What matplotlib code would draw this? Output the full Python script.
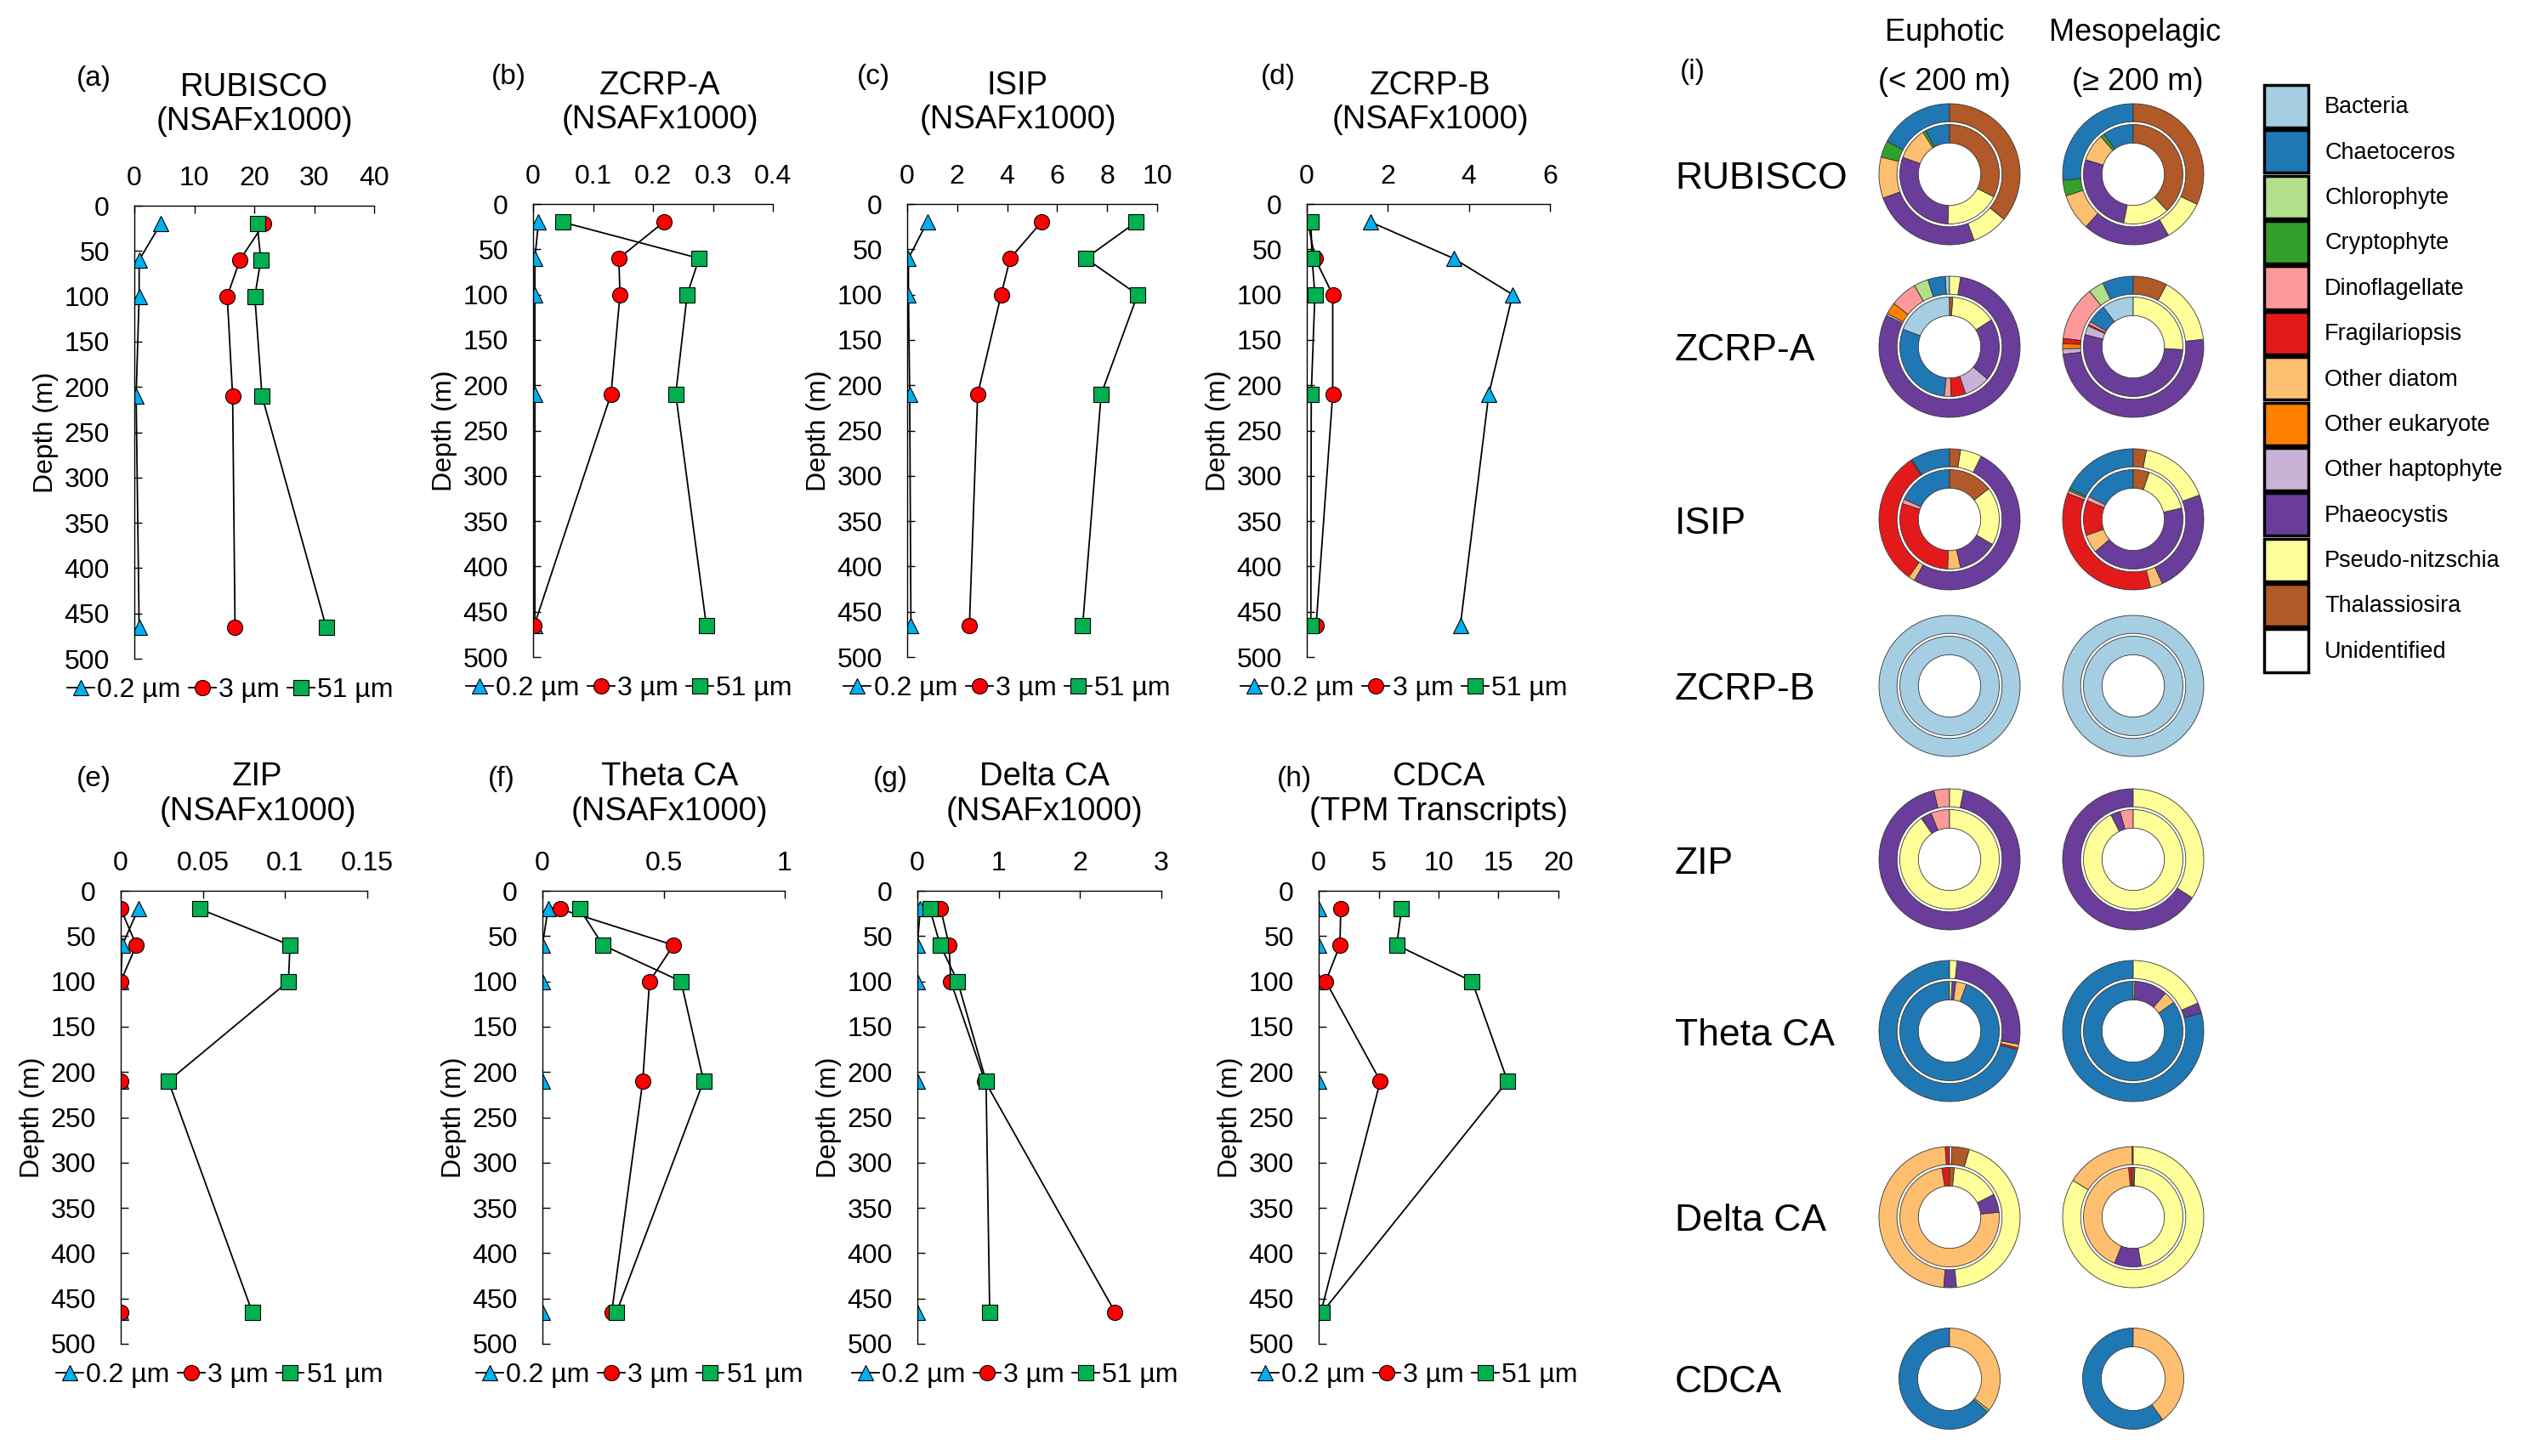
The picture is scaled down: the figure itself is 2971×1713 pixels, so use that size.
import numpy as np
import matplotlib
matplotlib.use("Agg")
import matplotlib.pyplot as plt
from matplotlib.patches import Patch
from matplotlib.ticker import FuncFormatter

plt.rcParams['font.family'] = ['Liberation Sans', 'DejaVu Sans']

W, H = 2971, 1713

# depth profiles (NSAFx1000 / TPM) for the three size fractions
depth = [20, 60, 100, 210, 465]

rubisco_02 = [4.4, 0.8, 0.8, 0.3, 0.8]
rubisco_3 = [21.6, 17.6, 15.5, 16.4, 16.8]
rubisco_51 = [20.5, 21.1, 20.1, 21.3, 32.0]

zcrpa_02 = [0.009, 0.003, 0.003, 0.003, 0.003]
zcrpa_3 = [0.218, 0.143, 0.145, 0.130, 0.002]
zcrpa_51 = [0.049, 0.277, 0.257, 0.238, 0.289]

isip_02 = [0.8, 0.05, 0.05, 0.1, 0.15]
isip_3 = [5.37, 4.12, 3.76, 2.82, 2.49]
isip_51 = [9.16, 7.14, 9.22, 7.76, 7.02]

zcrpb_02 = [1.58, 3.62, 5.08, 4.49, 3.79]
zcrpb_3 = [0.03, 0.2, 0.64, 0.64, 0.23]
zcrpb_51 = [0.1, 0.13, 0.2, 0.11, 0.1]

zip_02 = [0.0107, 0.001, 0.0, 0.0, 0.0]
zip_3 = [0.0, 0.0095, 0.0, 0.0, 0.0]
zip_51 = [0.048, 0.103, 0.102, 0.029, 0.080]

theta_02 = [0.023, 0.0, 0.0, 0.0, 0.0]
theta_3 = [0.072, 0.541, 0.442, 0.414, 0.286]
theta_51 = [0.154, 0.249, 0.572, 0.665, 0.306]

delta_02 = [0.035, 0.0, 0.0, 0.0, 0.0]
delta_3 = [0.286, 0.39, 0.41, 0.83, 2.43]
delta_51 = [0.153, 0.28, 0.495, 0.844, 0.889]

cdca_02 = [0.0, 0.0, 0.0, 0.0, 0.0]
cdca_3 = [1.84, 1.77, 0.59, 5.14, 0.19]
cdca_51 = [6.91, 6.51, 12.8, 15.75, 0.31]

# taxonomic composition (fractions), outer and inner ring
cats = ['Bacteria', 'Chaetoceros', 'Chlorophyte', 'Cryptophyte', 'Dinoflagellate',
        'Fragilariopsis', 'Other diatom', 'Other eukaryote', 'Other haptophyte',
        'Phaeocystis', 'Pseudo-nitzschia', 'Thalassiosira', 'Unidentified']
cat_colors = ['#a6cee3', '#1f78b4', '#b2df8a', '#33a02c', '#fb9a99', '#e31a1c', '#fdbf6f',
              '#ff7f00', '#cab2d6', '#6a3d9a', '#ffff99', '#b15928', '#ffffff']

rubisco_eu = [{'Chaetoceros': .173, 'Cryptophyte': .038, 'Other diatom': .094, 'Phaeocystis': .252,
               'Pseudo-nitzschia': .083, 'Thalassiosira': .36},
              {'Chaetoceros': .08, 'Cryptophyte': .01, 'Other diatom': .105, 'Phaeocystis': .30,
               'Pseudo-nitzschia': .18, 'Thalassiosira': .325}]
rubisco_me = [{'Chaetoceros': .264, 'Cryptophyte': .036, 'Other diatom': .084, 'Phaeocystis': .20,
               'Pseudo-nitzschia': .097, 'Thalassiosira': .32},
              {'Chaetoceros': .10, 'Cryptophyte': .013, 'Other diatom': .09, 'Phaeocystis': .266,
               'Pseudo-nitzschia': .15, 'Thalassiosira': .38}]
zcrpa_eu = [{'Bacteria': .01, 'Chaetoceros': .04, 'Chlorophyte': .033, 'Dinoflagellate': .062,
             'Other eukaryote': .027, 'Other haptophyte': .005, 'Phaeocystis': .798, 'Pseudo-nitzschia': .025},
            {'Bacteria': .193, 'Chaetoceros': .29, 'Dinoflagellate': .022, 'Fragilariopsis': .048,
             'Other haptophyte': .085, 'Phaeocystis': .203, 'Pseudo-nitzschia': .149, 'Thalassiosira': .01}]
zcrpa_me = [{'Chaetoceros': .071, 'Chlorophyte': .035, 'Dinoflagellate': .125, 'Fragilariopsis': .012,
             'Other eukaryote': .012, 'Other haptophyte': .012, 'Phaeocystis': .50, 'Pseudo-nitzschia': .155,
             'Thalassiosira': .078},
            {'Bacteria': .103, 'Chaetoceros': .063, 'Dinoflagellate': .01, 'Fragilariopsis': .005,
             'Other haptophyte': .03, 'Phaeocystis': .53, 'Pseudo-nitzschia': .259}]
isip_eu = [{'Chaetoceros': .089, 'Cryptophyte': .003, 'Fragilariopsis': .31, 'Other diatom': .015,
            'Phaeocystis': .509, 'Pseudo-nitzschia': .049, 'Thalassiosira': .025},
           {'Chaetoceros': .184, 'Dinoflagellate': .015, 'Fragilariopsis': .295, 'Other diatom': .042,
            'Phaeocystis': .13, 'Pseudo-nitzschia': .19, 'Thalassiosira': .144}]
isip_me = [{'Chaetoceros': .178, 'Cryptophyte': .005, 'Dinoflagellate': .007, 'Fragilariopsis': .35,
            'Other diatom': .028, 'Phaeocystis': .238, 'Pseudo-nitzschia': .164, 'Thalassiosira': .03},
           {'Chaetoceros': .174, 'Dinoflagellate': .015, 'Fragilariopsis': .113, 'Other diatom': .06,
            'Phaeocystis': .423, 'Pseudo-nitzschia': .161, 'Thalassiosira': .052}]
zcrpb_eu = [{'Bacteria': 1.0}, {'Bacteria': 1.0}]
zcrpb_me = [{'Bacteria': 1.0}, {'Bacteria': 1.0}]
zip_eu = [{'Dinoflagellate': .036, 'Phaeocystis': .932, 'Pseudo-nitzschia': .032},
          {'Dinoflagellate': .061, 'Phaeocystis': .035, 'Pseudo-nitzschia': .904}]
zip_me = [{'Phaeocystis': .658, 'Pseudo-nitzschia': .342},
          {'Dinoflagellate': .043, 'Phaeocystis': .031, 'Pseudo-nitzschia': .926}]
theta_eu = [{'Chaetoceros': .707, 'Fragilariopsis': .005, 'Other diatom': .008, 'Phaeocystis': .263,
             'Pseudo-nitzschia': .017},
            {'Chaetoceros': .945, 'Other diatom': .035, 'Phaeocystis': .012, 'Pseudo-nitzschia': .008}]
theta_me = [{'Chaetoceros': .791, 'Phaeocystis': .024, 'Pseudo-nitzschia': .185},
            {'Chaetoceros': .848, 'Other diatom': .04, 'Phaeocystis': .107, 'Pseudo-nitzschia': .005}]
delta_eu = [{'Fragilariopsis': .01, 'Other diatom': .477, 'Phaeocystis': .029, 'Pseudo-nitzschia': .439,
             'Thalassiosira': .04, 'Unidentified': .005},
            {'Fragilariopsis': .025, 'Other diatom': .741, 'Phaeocystis': .06, 'Pseudo-nitzschia': .159,
             'Thalassiosira': .015}]
delta_me = [{'Fragilariopsis': .003, 'Other diatom': .16, 'Pseudo-nitzschia': .837},
            {'Dinoflagellate': .005, 'Fragilariopsis': .01, 'Other diatom': .424, 'Phaeocystis': .087,
             'Pseudo-nitzschia': .469, 'Thalassiosira': .005}]
cdca_eu = [{'Chaetoceros': .636, 'Chlorophyte': .007, 'Other diatom': .357}]
cdca_me = [{'Chaetoceros': .599, 'Other diatom': .401}]

genes = ['RUBISCO', 'ZCRP-A', 'ISIP', 'ZCRP-B', 'ZIP', 'Theta CA', 'Delta CA', 'CDCA']

fig = plt.figure(figsize=(W / 100, H / 100), dpi=100)


def profile(left, top, width, title, letter, xmax, xstep, s02, s3, s51, tx, lx, ty, ly):
    ax = fig.add_axes([left / W, 1 - (top + 533) / H, width / W, 533 / H])
    kw = dict(color='black', lw=1.3, ms=13, mec='black', mew=0.8)
    ax.plot(s02, depth, marker='^', mfc='#00b0f0', label='0.2 µm', **kw)
    ax.plot(s3, depth, marker='o', mfc='#ff0000', label='3 µm', **kw)
    ax.plot(s51, depth, marker='s', mfc='#00b050', label='51 µm', **kw)
    ax.set_xlim(0, xmax)
    ax.set_ylim(500, 0)
    ax.set_xticks(np.arange(0, xmax + xstep / 2, xstep))
    ax.set_yticks(range(0, 501, 50))
    ax.xaxis.set_major_formatter(FuncFormatter(lambda v, p: f'{v:g}'))
    ax.xaxis.tick_top()
    ax.spines[['right', 'bottom']].set_visible(False)
    ax.spines[['left', 'top']].set_linewidth(1.0)
    ax.tick_params(direction='in', length=6.5, width=1.0, labelsize=23)
    ax.tick_params(axis='x', pad=12)
    ax.tick_params(axis='y', pad=21)
    ax.set_ylabel('Depth (m)', fontsize=23, labelpad=5)
    ax.text(tx, ty, title, transform=ax.transAxes, ha='center', va='center', fontsize=27.5, linespacing=1.15)
    ax.text(lx, ly, letter, transform=ax.transAxes, ha='center', va='center', fontsize=24)
    ax.legend(loc='center', bbox_to_anchor=(0.40, -0.07), ncol=3, frameon=False, fontsize=23,
              handlelength=1.0, handletextpad=0.1, columnspacing=0.3, borderaxespad=0, borderpad=0)


nsaf = '(NSAFx1000)'
profile(158, 242, 282, 'RUBISCO\n' + nsaf, '(a)', 40, 10, rubisco_02, rubisco_3, rubisco_51, 0.50, -0.17, 1.223, 1.28)
profile(627, 240, 282, 'ZCRP-A\n' + nsaf, '(b)', 0.4, 0.1, zcrpa_02, zcrpa_3, zcrpa_51, 0.53, -0.103, 1.223, 1.28)
profile(1067, 240, 294, 'ISIP\n' + nsaf, '(c)', 10, 2, isip_02, isip_3, isip_51, 0.442, -0.136, 1.223, 1.28)
profile(1537, 240, 286, 'ZCRP-B\n' + nsaf, '(d)', 6, 2, zcrpb_02, zcrpb_3, zcrpb_51, 0.507, -0.119, 1.223, 1.28)
profile(142, 1048, 290, 'ZIP\n' + nsaf, '(e)', 0.15, 0.05, zip_02, zip_3, zip_51, 0.555, -0.11, 1.213, 1.246)
profile(638, 1048, 285, 'Theta CA\n' + nsaf, '(f)', 1, 0.5, theta_02, theta_3, theta_51, 0.526, -0.168, 1.213, 1.246)
profile(1079, 1048, 287, 'Delta CA\n' + nsaf, '(g)', 3, 1, delta_02, delta_3, delta_51, 0.52, -0.11, 1.213, 1.246)
profile(1551, 1048, 282, 'CDCA\n(TPM Transcripts)', '(h)', 20, 5, cdca_02, cdca_3, cdca_51, 0.50, -0.10, 1.213, 1.246)


# (i) donut panel
col_x = [2293, 2509]
row_y = [205, 408, 611, 807, 1011, 1213, 1432, 1622]
ring_geom = [(83, 21.2), (58.5, 21.8)]
single_geom = [(59.5, 22)]


def donut(cx, cy, rings):
    s = 190
    ax = fig.add_axes([(cx - s / 2) / W, 1 - (cy + s / 2) / H, s / W, s / H])
    geom = ring_geom if len(rings) == 2 else single_geom
    for frac, (r, w) in zip(rings, geom):
        keys = [c for c in cats if c in frac]
        cols = [cat_colors[cats.index(c)] for c in keys]
        ax.pie([frac[k] for k in keys], colors=cols, startangle=90, counterclock=True, radius=r,
               wedgeprops=dict(width=w, edgecolor='#333333', linewidth=0.6))
    ax.set_xlim(-s / 2, s / 2)
    ax.set_ylim(-s / 2, s / 2)
    ax.axis('off')


donut_data = [(rubisco_eu, rubisco_me), (zcrpa_eu, zcrpa_me), (isip_eu, isip_me), (zcrpb_eu, zcrpb_me),
              (zip_eu, zip_me), (theta_eu, theta_me), (delta_eu, delta_me), (cdca_eu, cdca_me)]

for gene, y, (eu, me) in zip(genes, row_y, donut_data):
    donut(col_x[0], y, eu)
    donut(col_x[1], y, me)
    fig.text(1970 / W, 1 - (y + 5) / H, gene, ha='left', va='center', fontsize=32)

fig.text(2287 / W, 1 - 39 / H, 'Euphotic', ha='center', va='center', fontsize=26)
fig.text(2287 / W, 1 - 97 / H, '(< 200 m)', ha='center', va='center', fontsize=26)
fig.text(2511 / W, 1 - 39 / H, 'Mesopelagic', ha='center', va='center', fontsize=26)
fig.text(2514 / W, 1 - 97 / H, '(≥ 200 m)', ha='center', va='center', fontsize=26)
fig.text(1976 / W, 1 - 85 / H, '(i)', ha='left', va='center', fontsize=24)

handles = [Patch(facecolor=c, edgecolor='black', linewidth=2.5) for c in cat_colors]
fig.legend(handles, cats, loc='upper left', bbox_to_anchor=(2663 / W, 1 - 100 / H), frameon=False,
           fontsize=19.5, handlelength=1.93, handleheight=2.47, labelspacing=0.12,
           handletextpad=0.7, borderpad=0, borderaxespad=0)

fig.savefig('out.png', dpi=100)
